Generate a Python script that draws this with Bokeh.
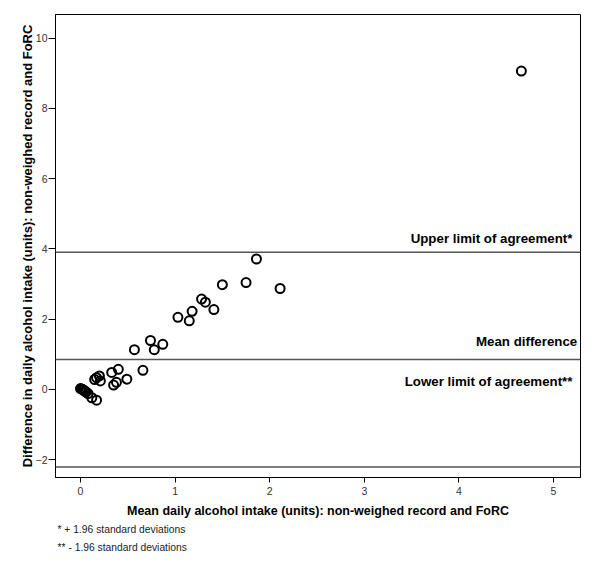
from bokeh.plotting import figure
from bokeh.models import Range1d, Span, Label, Title, FixedTicker
from bokeh.embed import file_html
from bokeh.resources import INLINE

# Data: mean of the two methods (x) and their difference (y)
mean_x = [0.00, 0.01, 0.02, 0.03, 0.04, 0.05, 0.06, 0.08, 0.12, 0.17,
          0.15, 0.17, 0.20, 0.21,
          0.33, 0.40, 0.35, 0.38, 0.49, 0.66,
          0.57, 0.74, 0.78, 0.87,
          1.03, 1.15, 1.18, 1.28, 1.32, 1.41,
          1.50, 1.75, 1.86, 2.11,
          4.66]
diff_y = [0.02, 0.01, 0.00, -0.02, -0.04, -0.06, -0.08, -0.12, -0.24, -0.31,
          0.28, 0.33, 0.38, 0.24,
          0.48, 0.57, 0.12, 0.20, 0.29, 0.54,
          1.13, 1.39, 1.13, 1.28,
          2.05, 1.95, 2.22, 2.57, 2.48, 2.27,
          2.98, 3.04, 3.71, 2.87,
          9.06]
x_ticks = [0, 1, 2, 3, 4, 5]
y_ticks = [-2, 0, 2, 4, 6, 8, 10]
mean_difference = 0.85
upper_limit = 3.90
lower_limit = -2.21

FONT = "Liberation Sans"

p = figure(frame_width=525, frame_height=463,
           x_range=Range1d(-0.264, 5.285), y_range=Range1d(-2.51, 10.67),
           output_backend="svg", toolbar_location=None,
           min_border_left=55, min_border_right=20, min_border_top=14,
           min_border_bottom=0)
p.background_fill_color = "white"
p.border_fill_color = "white"
p.outline_line_color = "black"
p.outline_line_width = 1
p.xgrid.visible = False
p.ygrid.visible = False

for ax in (p.xaxis[0], p.yaxis[0]):
    ax.axis_line_color = "black"
    ax.major_tick_line_color = "black"
    ax.minor_tick_line_color = None
    ax.major_tick_in = 0
    ax.major_label_text_font = FONT
    ax.major_label_text_font_size = "10.5px"
    ax.major_label_text_color = "#333333"
    ax.axis_label_text_font = FONT
    ax.axis_label_text_font_style = "bold"
    ax.axis_label_text_color = "black"

p.xaxis.axis_label_text_font_size = "12.5px"
p.yaxis.axis_label_text_font_size = "13px"
p.xaxis.ticker = FixedTicker(ticks=x_ticks)
p.yaxis.ticker = FixedTicker(ticks=y_ticks)
p.xaxis.major_tick_out = 5
p.yaxis.major_tick_out = 7
p.xaxis.major_label_standoff = 4
p.yaxis.major_label_standoff = 1
p.xaxis.axis_label = "Mean daily alcohol intake (units): non-weighed record and FoRC"
p.yaxis.axis_label = "Difference in daily alcohol intake (units): non-weighed record and FoRC"
p.xaxis.axis_label_standoff = 6
p.yaxis.axis_label_standoff = -2

for val in (upper_limit, mean_difference, lower_limit):
    p.add_layout(Span(location=val, dimension="width", line_color="#555555", line_width=1.5))

p.scatter(mean_x, diff_y, size=9, fill_color=None, line_color="black", line_width=2)

lab_kw = dict(text_font=FONT, text_font_size="13.3px", text_font_style="bold",
              text_align="right", text_baseline="middle", text_color="black")
p.add_layout(Label(x=5.20, y=upper_limit + 0.40, text="Upper limit of agreement*", **lab_kw))
p.add_layout(Label(x=5.25, y=mean_difference + 0.52, text="Mean difference", **lab_kw))
p.add_layout(Label(x=5.20, y=mean_difference - 0.62, text="Lower limit of agreement**", **lab_kw))

stand = [3, 6]
for t, s in zip(("* + 1.96 standard deviations", "** - 1.96 standard deviations"), stand):
    p.add_layout(Title(text=t, align="left", offset=2, text_font=FONT,
                       text_font_size="10.3px", text_font_style="normal",
                       text_color="#222222", standoff=s), "below")

open("out.html", "w").write(file_html(p, INLINE))
